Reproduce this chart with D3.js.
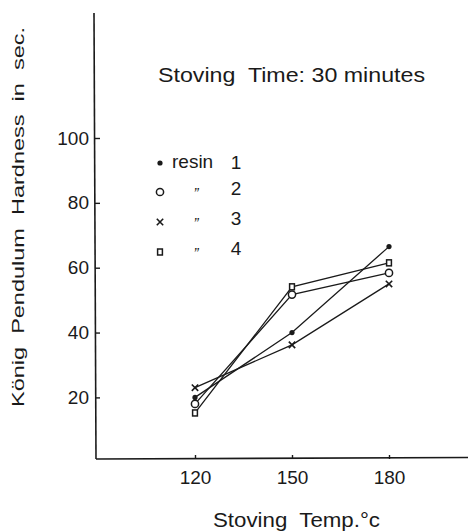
<!DOCTYPE html>
<html>
<head>
<meta charset="utf-8">
<script src="https://cdn.jsdelivr.net/npm/d3@7"></script>
<style>
  html, body { margin: 0; padding: 0; background: #fff; }
  svg { display: block; }
  text { font-family: "Liberation Sans", "DejaVu Sans", sans-serif; fill: #1a1a1a; }
</style>
</head>
<body>
<svg id="chart" width="468" height="532"></svg>
<script>
// Stoving temperatures (°C) on the x axis
const temps = [120, 150, 180];
// König pendulum hardness (sec.) for each resin
const resin1 = [20, 40, 66.5];
const resin2 = [18, 51.7, 58.4];
const resin3 = [23, 36.2, 55];
const resin4 = [15.2, 54.1, 61.5];
const seriesNames = ["resin 1", "2", "3", "4"];
const markerKinds = ["dot", "circle", "cross", "square"];
const yTicks = [20, 40, 60, 80, 100];

const series = [resin1, resin2, resin3, resin4].map((vals, i) => ({
  name: seriesNames[i],
  kind: markerKinds[i],
  points: temps.map((t, j) => ({ t, v: vals[j] }))
}));

const svg = d3.select("#chart");
const ink = "#1a1a1a";

const x = d3.scaleLinear().domain([120, 180]).range([195, 389]);
const y = d3.scaleLinear().domain([0, 100]).range([462.25, 138]);

const axisY = 459;   // baseline of the x axis
const axisX = 94;    // position of the y axis

// Axis lines
svg.append("line").attr("x1", axisX).attr("y1", 13).attr("x2", axisX + 2).attr("y2", axisY)
  .attr("stroke", ink).attr("stroke-width", 1.6);
svg.append("line").attr("x1", axisX + 2).attr("y1", axisY).attr("x2", 468).attr("y2", axisY - 1.5)
  .attr("stroke", ink).attr("stroke-width", 1.6);

// Y axis ticks and labels (ticks point into the plot)
const gy = svg.append("g").attr("transform", `translate(${axisX + 1},0)`)
  .call(d3.axisLeft(y).tickValues(yTicks).tickSizeInner(-5).tickSizeOuter(0).tickPadding(6));
gy.select(".domain").remove();
gy.selectAll(".tick line").attr("stroke", ink).attr("stroke-width", 1.4);
gy.selectAll(".tick text").attr("font-size", 19).attr("fill", ink)
  .attr("font-family", "Liberation Sans, sans-serif");

// X axis ticks and labels
const gx = svg.append("g").attr("transform", `translate(0,${axisY})`)
  .call(d3.axisBottom(x).tickValues(temps).tickSizeInner(-4).tickSizeOuter(0).tickPadding(12));
gx.select(".domain").remove();
gx.selectAll(".tick line").attr("stroke", ink).attr("stroke-width", 1.4);
gx.selectAll(".tick text").attr("font-size", 19).attr("fill", ink)
  .attr("font-family", "Liberation Sans, sans-serif");

// Series lines
const line = d3.line().x(d => x(d.t)).y(d => y(d.v));
svg.append("g").selectAll("path").data(series).join("path")
  .attr("d", d => line(d.points))
  .attr("fill", "none").attr("stroke", ink).attr("stroke-width", 1.3);

// Marker drawing
function drawMarker(g, kind, cx, cy) {
  if (kind === "dot") {
    g.append("circle").attr("cx", cx).attr("cy", cy).attr("r", 2.6).attr("fill", ink);
  } else if (kind === "circle") {
    g.append("circle").attr("cx", cx).attr("cy", cy).attr("r", 3.6)
      .attr("fill", "#fff").attr("stroke", ink).attr("stroke-width", 1.5);
  } else if (kind === "cross") {
    const s = 3.2;
    g.append("path").attr("d", `M${cx - s},${cy - s}L${cx + s},${cy + s}M${cx - s},${cy + s}L${cx + s},${cy - s}`)
      .attr("stroke", ink).attr("stroke-width", 1.6).attr("fill", "none");
  } else if (kind === "square") {
    g.append("rect").attr("x", cx - 2.4).attr("y", cy - 3).attr("width", 4.8).attr("height", 6)
      .attr("fill", "#fff").attr("stroke", ink).attr("stroke-width", 1.5);
  }
}

const gm = svg.append("g");
series.forEach(s => s.points.forEach(p => drawMarker(gm, s.kind, x(p.t), y(p.v))));

// Legend
const legendRows = [163, 192, 222, 252];
const gl = svg.append("g");
series.forEach((s, i) => {
  drawMarker(gl, s.kind, 160, legendRows[i]);
  if (i === 0) {
    gl.append("text").attr("x", 172).attr("y", legendRows[i] + 5).attr("font-size", 19)
      .text("resin");
    gl.append("text").attr("x", 236).attr("y", legendRows[i] + 6).attr("font-size", 19)
      .attr("text-anchor", "middle").text("1");
  } else {
    gl.append("text").attr("x", 196).attr("y", legendRows[i] + 6).attr("font-size", 15)
      .attr("text-anchor", "middle").attr("font-style", "italic").text("\u201D");
    gl.append("text").attr("x", 236).attr("y", legendRows[i] + 3).attr("font-size", 19)
      .attr("text-anchor", "middle").text(s.name);
  }
});

// Title
svg.append("text").attr("x", 158).attr("y", 82).attr("font-size", 21)
  .attr("textLength", 267).attr("lengthAdjust", "spacingAndGlyphs")
  .attr("xml:space", "preserve").text("Stoving  Time: 30 minutes");

// X axis title
svg.append("text").attr("x", 213).attr("y", 527).attr("font-size", 20)
  .attr("textLength", 167).attr("lengthAdjust", "spacingAndGlyphs")
  .attr("xml:space", "preserve").text("Stoving  Temp.°c");

// Y axis title
svg.append("text").attr("transform", "translate(24,407) rotate(-90)").attr("font-size", 17)
  .attr("textLength", 380).attr("lengthAdjust", "spacingAndGlyphs")
  .attr("xml:space", "preserve").text("König  Pendulum  Hardness  in  sec.");
</script>
</body>
</html>
